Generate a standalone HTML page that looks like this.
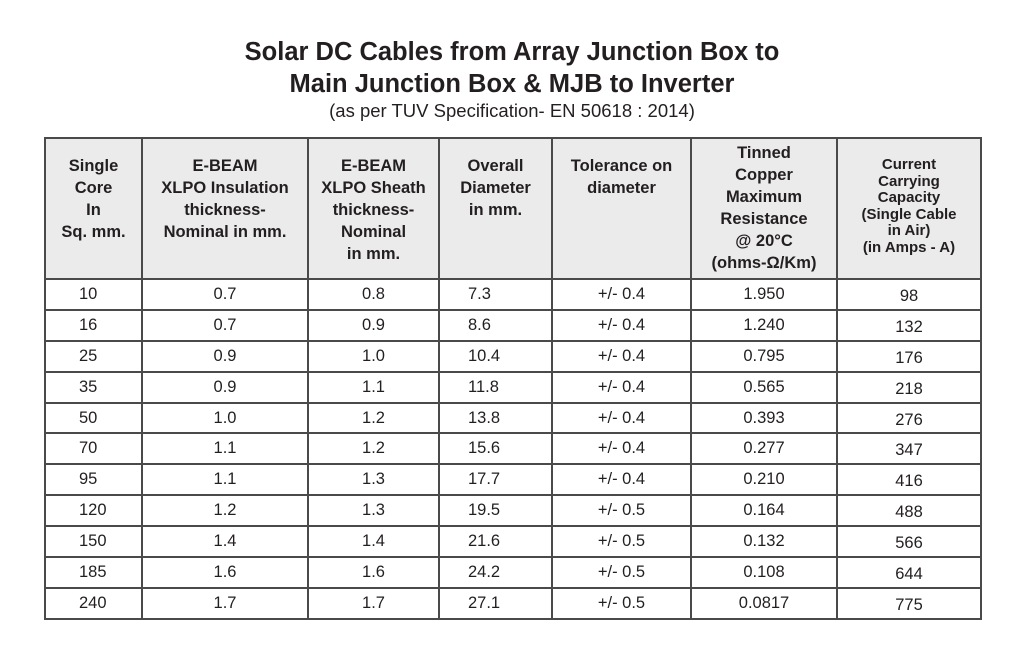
<!DOCTYPE html>
<html><head><meta charset="utf-8"><style>
body{margin:0;width:1024px;height:663px;background:#fff;font-family:"Liberation Sans",Arial,sans-serif;color:#231f20;position:relative;overflow:hidden}
.t{position:absolute;left:0;width:1024px;text-align:center;font-weight:bold;font-size:25.5px;white-space:nowrap}
.sub{position:absolute;left:0;width:1024px;text-align:center;font-size:18.5px;top:100px}
table{position:absolute;left:44px;top:137px;border-collapse:collapse;table-layout:fixed}
td,th{border:2px solid #4a4a4a;text-align:center;padding:0;box-sizing:border-box}
th{background:#ebebeb;font-size:16.5px;line-height:22px;vertical-align:top;height:141px;font-weight:bold}
th div{margin-top:16px}
td{font-size:16.5px;height:30.9px}
</style></head><body>
<div class="t" style="top:38px">Solar DC Cables from Array Junction Box to</div>
<div class="t" style="top:70px">Main Junction Box &amp; MJB to Inverter</div>
<div class="sub">(as per TUV Specification- EN 50618 : 2014)</div>
<table>
<colgroup><col style="width:97px"><col style="width:166px"><col style="width:131px"><col style="width:113px"><col style="width:139px"><col style="width:146px"><col style="width:144px"></colgroup>
<tr>
<th><div>Single<br>Core<br>In<br>Sq. mm.</div></th>
<th><div>E-BEAM<br>XLPO Insulation<br>thickness-<br>Nominal in mm.</div></th>
<th><div>E-BEAM<br>XLPO Sheath<br>thickness-<br>Nominal<br>in mm.</div></th>
<th><div>Overall<br>Diameter<br>in mm.</div></th>
<th><div>Tolerance on<br>diameter</div></th>
<th><div style="margin-top:3px">Tinned<br>Copper<br>Maximum<br>Resistance<br>@ 20°C<br>(ohms-Ω/Km)</div></th>
<th style="font-size:15px;line-height:16.5px"><div style="margin-top:18px">Current<br>Carrying<br>Capacity<br>(Single Cable<br>in Air)<br>(in Amps - A)</div></th>
</tr>
<tbody id="tb"></tbody>
</table>
<script>
const sizes=["10","16","25","35","50","70","95","120","150","185","240"];
const insul=["0.7","0.7","0.9","0.9","1.0","1.1","1.1","1.2","1.4","1.6","1.7"];
const sheath=["0.8","0.9","1.0","1.1","1.2","1.2","1.3","1.3","1.4","1.6","1.7"];
const diam=["7.3","8.6","10.4","11.8","13.8","15.6","17.7","19.5","21.6","24.2","27.1"];
const tol=["+/- 0.4","+/- 0.4","+/- 0.4","+/- 0.4","+/- 0.4","+/- 0.4","+/- 0.4","+/- 0.5","+/- 0.5","+/- 0.5","+/- 0.5"];
const resist=["1.950","1.240","0.795","0.565","0.393","0.277","0.210","0.164","0.132","0.108","0.0817"];
const amps=["98","132","176","218","276","347","416","488","566","644","775"];
const tb=document.getElementById('tb');
for(let i=0;i<sizes.length;i++){
 const tr=document.createElement('tr');
 
 
 const vals=[sizes[i],insul[i],sheath[i],diam[i],tol[i],resist[i],amps[i]];
 vals.forEach((v,j)=>{
  const td=document.createElement('td');
  td.textContent=v;
  
  
  if(j===0){td.style.textAlign='left';td.style.paddingLeft='33px';}
  if(j===3){td.style.textAlign='left';td.style.paddingLeft='28px';}
  if(j===6){td.style.paddingTop='4px';}
  tr.appendChild(td);
 });
 tb.appendChild(tr);
}
</script>
</body></html>
